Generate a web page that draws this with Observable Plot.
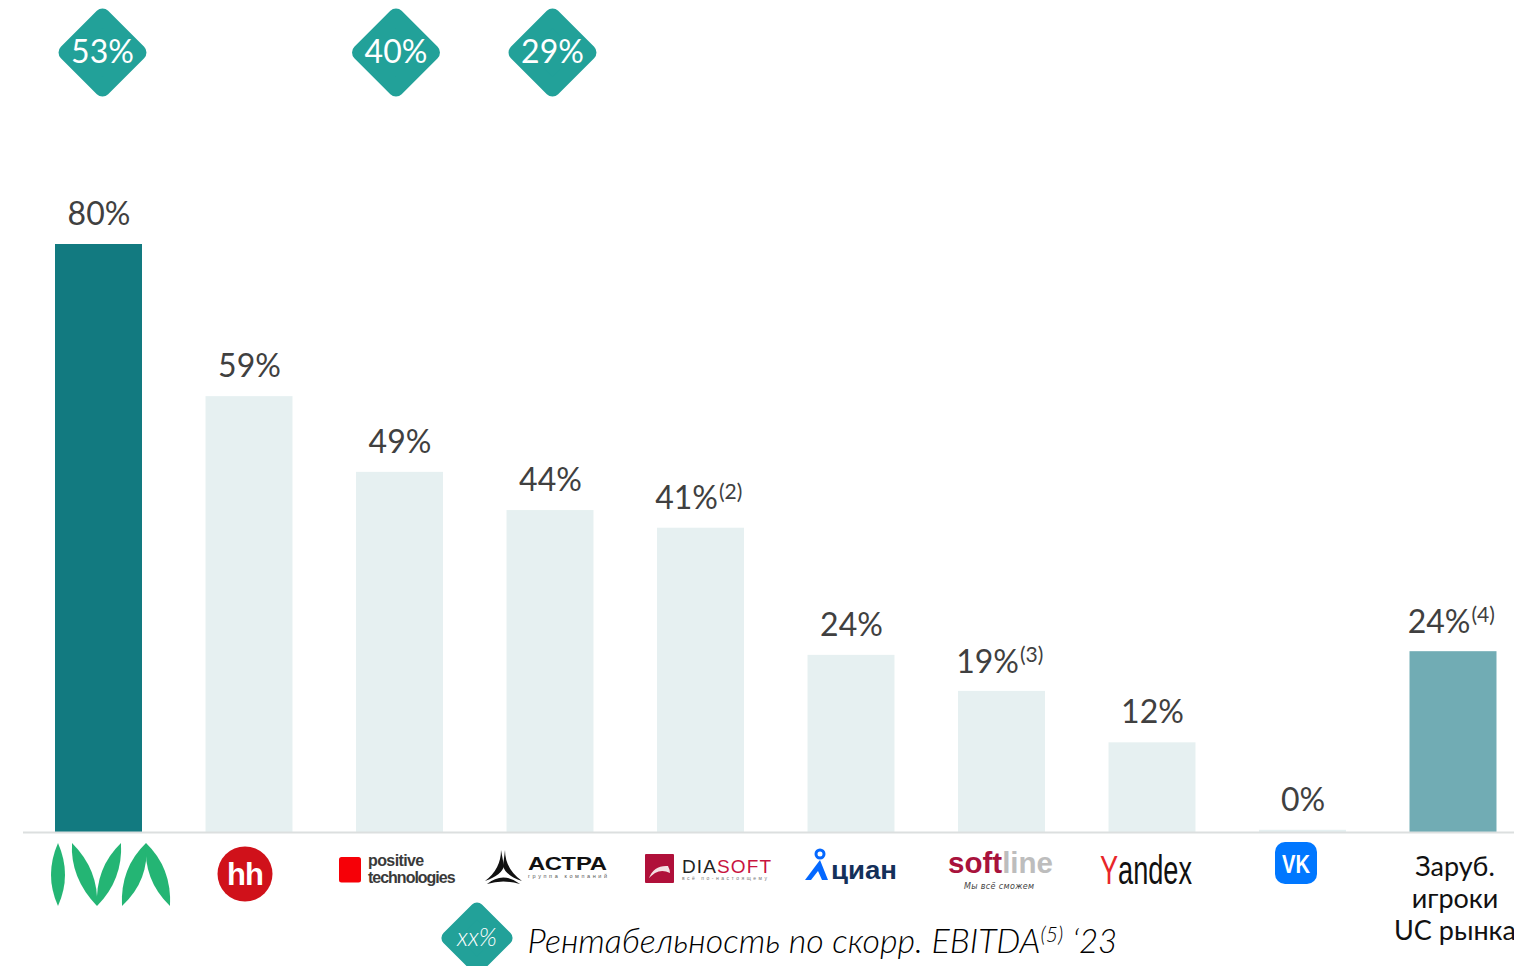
<!DOCTYPE html>
<html><head><meta charset="utf-8">
<script src="https://cdn.jsdelivr.net/npm/d3@7"></script>
<script src="https://cdn.jsdelivr.net/npm/@observablehq/plot@0.6"></script>
<style>html,body{margin:0;padding:0;background:#fff}svg{display:block}</style>
</head><body><div id="chart"></div>
<script>
const categories = ["IVA","hh","Positive Technologies","Астра","Diasoft","Циан","Softline","Yandex","VK","Заруб. игроки UC рынка"];
const barValues = [80, 59.3, 49, 43.8, 41.4, 24.1, 19.2, 12.2, 0.3, 24.6];
const labels = ["80%","59%","49%","44%","41%","24%","19%","12%","0%","24%"];
const footnotes = ["","","","","(2)","","(3)","","","(4)"];
const badges = [["IVA","53%",3.5],["Positive Technologies","40%",-4],["Астра","29%",2]];
const FONT = "Lato, 'Noto Sans', sans-serif";
const fills = categories.map((c,i)=> i===0 ? "#127a80" : i===9 ? "#71acb4" : "#e6f0f1");
const rows = categories.map((c,i)=>({c, v:barValues[i], label:labels[i], note:footnotes[i], fill:fills[i]}));
const plain = rows.filter(d=>!d.note), noted = rows.filter(d=>d.note);

const logos = (index,{x}) => {
  const g = d3.create("svg:g").attr("text-anchor","start");
  g.html(`
  <g fill="#24b574">
   <path d="M58 843Q44 875 58 906Q72 875 58 843Z"/>
   <path d="M72 843Q70 878 97 906Q99 870 72 843Z"/>
   <path d="M121 843Q95 868 97 906Q123 880 121 843Z"/>
   <path d="M146 843Q120 868 122 906Q150 880 146 843Z"/>
   <path d="M146 843Q143 880 170 906Q172 868 146 843Z"/>
  </g>
  <circle cx="245" cy="874" r="27.5" fill="#d0111a"/>
  <text x="245" y="885" text-anchor="middle" font-family="Liberation Sans" font-weight="700" font-size="31" letter-spacing="-1" fill="#fff">hh</text>
  <rect x="339" y="857" width="22" height="25.500" rx="2.500" fill="#f60007"/>
  <g font-family="Liberation Sans" font-weight="700" fill="#3a3a3a" font-size="16" letter-spacing="-0.6">
   <text x="368" y="866">positive</text><text x="368" y="883" textLength="87">technologies</text>
  </g>
  <g fill="#111">
   <path d="M501 850Q501 869 485 881Q502 875 504 866Z"/>
   <path d="M505 850Q505 869 522 881Q505 875 503 866Z"/>
   <path d="M487 884Q503 871 520 884Q503 879 487 884Z"/>
  </g>
  <text x="528" y="870" font-family="Liberation Sans" font-weight="700" font-size="19" textLength="79" lengthAdjust="spacingAndGlyphs" fill="#111">АСТРА</text>
  <text x="528" y="878" font-family="Liberation Sans" font-size="5.500" textLength="79" fill="#555">группа компаний</text>
  <rect x="645" y="854" width="29" height="29" rx="1" fill="#b0103a"/>
  <path d="M649 878Q654 865 668 866Q670 870 670 873Q662 869 655 873Q651 876 649 878Z" fill="#f3dfe3"/>
  <text x="682" y="873" font-family="Liberation Sans" font-size="19" textLength="89"><tspan fill="#222">DIA</tspan><tspan fill="#c8143f">SOFT</tspan></text>
  <text x="682" y="880" font-family="Liberation Sans" font-size="5" textLength="85" fill="#777">всё по-настоящему</text>
  <circle cx="820" cy="854" r="4" fill="none" stroke="#0468ff" stroke-width="3"/>
  <path d="M820 860L828 880L822 880L818 871L811 880L805 880Z" fill="#0468ff"/>
  <text x="831" y="879" font-family="Liberation Sans" font-weight="700" font-size="26" textLength="66" lengthAdjust="spacingAndGlyphs" fill="#14305a">циан</text>
  <text x="948" y="873" font-family="Liberation Sans" font-weight="700" font-size="30" textLength="105" lengthAdjust="spacingAndGlyphs"><tspan fill="#a8123c">soft</tspan><tspan fill="#bdbdbd">line</tspan></text>
  <text x="964" y="889" font-family="DejaVu Sans" font-style="italic" font-size="8" textLength="70" fill="#444">Мы всё сможем</text>
  <text transform="translate(1100 884) scale(1 1.3)" font-family="Liberation Sans Narrow, Liberation Sans" font-size="31" textLength="92" lengthAdjust="spacingAndGlyphs"><tspan fill="#e8262a">Y</tspan><tspan fill="#111">andex</tspan></text>
  <rect x="1275" y="842" width="42" height="42" rx="10" fill="#0077ff"/>
  <text x="1282" y="873" font-family="Liberation Sans" font-weight="700" font-size="25" textLength="28" lengthAdjust="spacingAndGlyphs" fill="#fff">VK</text>`);
  return g.node();
};

const LEFT = 23;
const chart = Plot.plot({
  width:1514, height:966,
  marginTop:0, marginBottom:0, marginLeft:LEFT, marginRight:0,
  style:{fontFamily:FONT, background:"#fff", overflow:"hidden"},
  x:{type:"band", domain:categories, range:[23.25,1528.25], paddingInner:0.422, paddingOuter:0.211, round:false, axis:null},
  y:{domain:[0,80], range:[832,244], axis:null},
  marks:[
    Plot.barY(rows,{x:"c", y:"v", fill:d=>d.fill}),
    Plot.ruleY([0],{stroke:"#dcdfdf", strokeWidth:2}),
    Plot.text(plain,{x:"c", y:"v", text:"label", dy:-30, fontSize:32, fill:"#404040"}),
    Plot.text(noted,{x:"c", y:"v", text:"label", dy:-29, dx:17, textAnchor:"end", fontSize:32, fill:"#404040"}),
    Plot.text(noted,{x:"c", y:"v", text:"note", dy:-36, dx:18, textAnchor:"start", fontSize:21, fill:"#404040"}),
    ...badges.map(([c,t,dx])=>Plot.dot([c],{x:d=>d, frameAnchor:"top", dy:52, dx, symbol:"square", rotate:45, r:28.7, fill:"#22a199", stroke:"#22a199", strokeWidth:16, strokeLinejoin:"round"})),
    ...badges.map(([c,t,dx])=>Plot.text([c],{x:d=>d, frameAnchor:"top", lineAnchor:"middle", dy:52, dx, text:()=>t, fontSize:32, fill:"#fff"})),
    Plot.text(["Заруб.\nигроки\nUC рынка"],{x:()=>categories[9], y:()=>0, dy:65, dx:1.5, lineHeight:1.185, fontSize:27, fill:"#111", text:d=>d}),
    Plot.dot(["legend"],{frameAnchor:"top-left", dx:476.5-LEFT, dy:937.5, symbol:"square", rotate:45, r:22.8, fill:"#22a199", stroke:"#22a199", strokeWidth:14, strokeLinejoin:"round"}),
    Plot.text(["xx%"],{frameAnchor:"top-left", lineAnchor:"middle", dx:476.5-LEFT, dy:937.5, textAnchor:"middle", fontSize:25, fontStyle:"italic", fontWeight:300, fill:"#fff", text:d=>d}),
    Plot.text(["Рентабельность по скорр. EBITDA"],{frameAnchor:"top-left", lineAnchor:"middle", dx:527-LEFT, dy:942, textAnchor:"start", fontSize:34, fontWeight:300, fontStyle:"italic", fill:"#000", text:d=>d}),
    Plot.text(["(5)"],{frameAnchor:"top-left", lineAnchor:"middle", dx:1040-LEFT, dy:935, textAnchor:"start", fontSize:21, fontWeight:300, fontStyle:"italic", fill:"#000", text:d=>d}),
    Plot.text(["‘23"],{frameAnchor:"top-left", lineAnchor:"middle", dx:1072-LEFT, dy:942, textAnchor:"start", fontSize:33, fontWeight:300, fontStyle:"italic", fill:"#000", text:d=>d}),
    logos
  ]
});
document.getElementById("chart").append(chart);
</script></body></html>
